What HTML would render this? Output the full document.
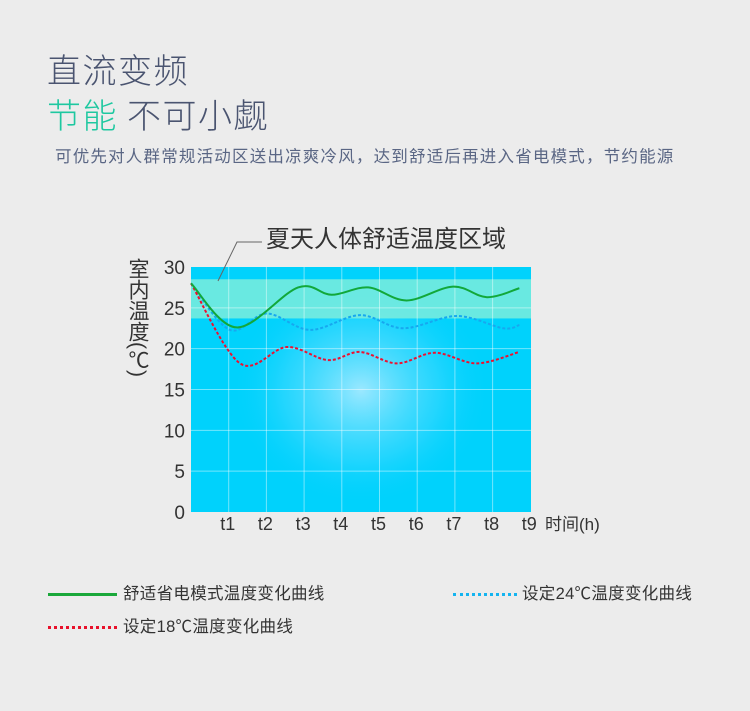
<!DOCTYPE html>
<html><head><meta charset="utf-8">
<style>
body{margin:0;width:750px;height:711px;background:#ececec;overflow:hidden;font-family:"Liberation Sans","Noto Sans CJK SC",sans-serif;}
.t{position:absolute;white-space:nowrap;}
</style></head>
<body>
<div class="t" style="left:47px;top:44px;font-size:34px;font-weight:300;color:#4a5470;letter-spacing:1.5px;font-family:'Noto Sans CJK SC',sans-serif;">直流变频</div>
<div class="t" style="left:47px;top:89px;font-size:34px;font-weight:300;color:#4a5470;letter-spacing:1.5px;font-family:'Noto Sans CJK SC',sans-serif;"><span style="color:#1ec8a0">节能</span> 不可小觑</div>
<div class="t" style="left:55px;top:143px;font-size:16.5px;color:#5a6684;letter-spacing:1.2px;font-family:'Noto Sans CJK SC',sans-serif;">可优先对人群常规活动区送出凉爽冷风，达到舒适后再进入省电模式，节约能源</div>

<svg id="chart" width="750" height="711" style="position:absolute;left:0;top:0">
<defs>
<radialGradient id="glow" cx="0.5" cy="0.45" r="0.5">
<stop offset="0" stop-color="#9be8ff"/><stop offset="0.6" stop-color="#3ad8ff" stop-opacity="0.6"/><stop offset="1" stop-color="#00d0ff" stop-opacity="0"/>
</radialGradient>
</defs>
<g id="plot"></g>
</svg>

<div class="t" style="left:125px;top:258px;writing-mode:vertical-rl;font-size:21px;line-height:24px;color:#333;font-family:'Liberation Sans','Noto Sans CJK SC',sans-serif;">室内温度(℃)</div>

<div class="t" style="left:48px;top:580px;font-size:16.5px;letter-spacing:0.3px;color:#333;"><span style="display:inline-block;width:69px;height:3px;background:#1aa83a;vertical-align:middle;margin-right:6px"></span>舒适省电模式温度变化曲线</div>
<div class="t" style="left:453px;top:580px;font-size:16.5px;letter-spacing:0.3px;color:#333;"><span style="display:inline-block;width:64px;border-top:3px dotted #14b4f0;vertical-align:middle;margin-right:5px"></span>设定24℃温度变化曲线</div>
<div class="t" style="left:48px;top:613px;font-size:16.5px;letter-spacing:0.3px;color:#333;"><span style="display:inline-block;width:69px;border-top:3px dotted #e8102a;vertical-align:middle;margin-right:6px"></span>设定18℃温度变化曲线</div>

<script>
const yTicks=[0,5,10,15,20,25,30];
const xTicks=["t1","t2","t3","t4","t5","t6","t7","t8","t9"];
const comfortBand=[23.7,28.5];
const greenT=[0,1.21,2.84,3.73,4.7,5.72,6.95,7.85,8.71];
const greenV=[28,22.6,27.5,26.6,27.5,25.9,27.6,26.3,27.4];
const blueT=[0,1.03,2.01,3.16,4.48,5.63,7.05,8.28,8.71];
const blueV=[28,22.3,24.3,22.3,24.1,22.5,24.0,22.5,22.9];
const redT=[0,1.3,2.54,3.63,4.48,5.46,6.47,7.58,8.71];
const redV=[28,18.2,20.2,18.6,19.6,18.2,19.5,18.2,19.6];

const X0=191,X1=531,Y0=512,Y1=267;
const xs=t=>X0+t*37.7;
const ys=v=>Y0-(v/30)*(Y0-Y1);
const NS="http://www.w3.org/2000/svg";
const g=document.getElementById('plot');
function mk(tag,attrs,parent){const e=document.createElementNS(NS,tag);for(const k in attrs)e.setAttribute(k,attrs[k]);(parent||g).appendChild(e);return e;}

const bg=mk('rect',{x:X0,y:Y1,width:X1-X0,height:Y0-Y1,fill:'#00d2fc'});


mk('rect',{x:X0+40,y:Y1+20,width:260,height:230,fill:'url(#glow)'});
const band=mk('rect',{x:X0,y:ys(comfortBand[1]),width:X1-X0,height:ys(comfortBand[0])-ys(comfortBand[1]),fill:'#8cf0d8',opacity:0.75});



yTicks.forEach(v=>{
  if(v>0&&v<30) mk('line',{x1:X0,x2:X1,y1:ys(v),y2:ys(v),stroke:'#ffffff','stroke-opacity':0.45,'stroke-width':1});
  const t=mk('text',{x:185,y:ys(v)+7,'text-anchor':'end','font-size':19,fill:'#333','font-family':'Liberation Sans,sans-serif'});
  t.textContent=v;
  
  
});
xTicks.forEach((s,i)=>{
  const x=xs(i+1);
  if(i<8) mk('line',{x1:x,x2:x,y1:Y1,y2:Y0,stroke:'#ffffff','stroke-opacity':0.45,'stroke-width':1});
  const t=mk('text',{x:x-1,y:530,'text-anchor':'middle','font-size':18,fill:'#333','font-family':'Liberation Sans,sans-serif'});
  t.textContent=s;
  
  
});
const xt=mk('text',{x:545,y:530,'font-size':17,fill:'#333','font-family':'Liberation Sans,Noto Sans CJK SC,sans-serif'});
xt.textContent='时间(h)';



function path(T,V){
  const p=T.map((t,i)=>[xs(t),ys(V[i])]);
  let d='M'+p[0][0]+','+p[0][1];
  for(let i=0;i<p.length-1;i++){
    const a=p[Math.max(i-1,0)],b=p[i],c=p[i+1],e=p[Math.min(i+2,p.length-1)];
    const c1=[b[0]+(c[0]-a[0])/6,b[1]+(c[1]-a[1])/6],c2=[c[0]-(e[0]-b[0])/6,c[1]-(e[1]-b[1])/6];
    d+=` C${c1[0]},${c1[1]} ${c2[0]},${c2[1]} ${c[0]},${c[1]}`;
  }
  return d;
}
const bl=mk('path',{d:path(blueT,blueV),fill:'none',stroke:'#17a8ef','stroke-width':2,'stroke-dasharray':'3,2'});


const rl=mk('path',{d:path(redT,redV),fill:'none',stroke:'#ee1030','stroke-width':2,'stroke-dasharray':'3,2'});


const gl=mk('path',{d:path(greenT,greenV),fill:'none',stroke:'#12a83a','stroke-width':2});



const ld=mk('polyline',{points:'262,242 237,242 218,281',fill:'none',stroke:'#666','stroke-width':1});


const an=mk('text',{x:266,y:247,'font-size':24,fill:'#333','font-family':'Noto Sans CJK SC,sans-serif'});
an.textContent='夏天人体舒适温度区域';


</script>
</body></html>
